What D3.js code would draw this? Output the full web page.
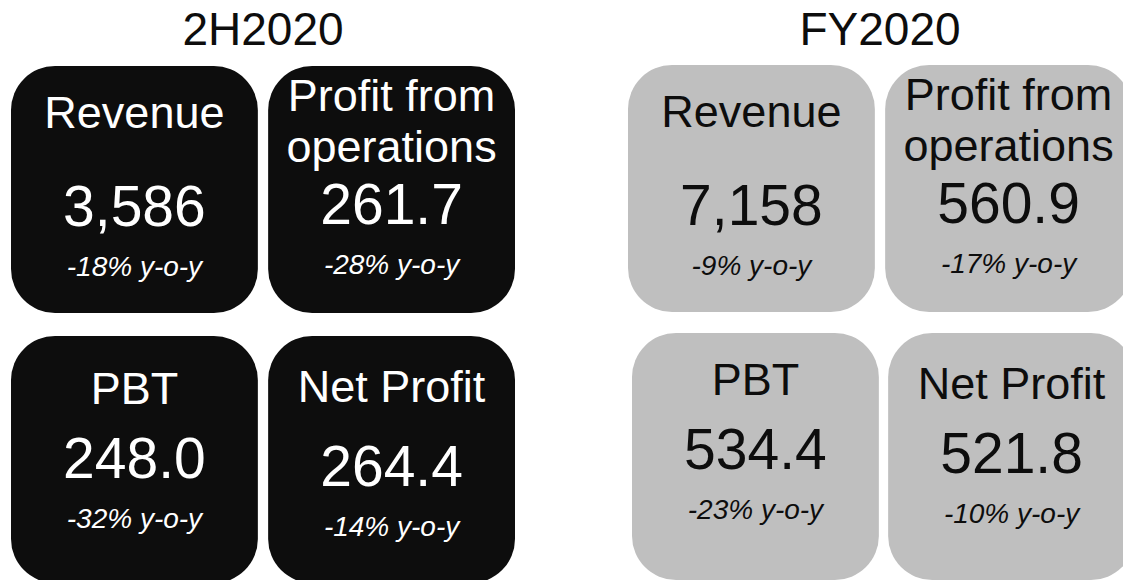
<!DOCTYPE html>
<html>
<head>
<meta charset="utf-8">
<script src="https://cdn.jsdelivr.net/npm/d3@7"></script>
<style>
  body { margin: 0; background: #fff; }
  text { font-family: Arial, 'Liberation Sans', sans-serif; }
</style>
</head>
<body>
<div id="chart"></div>
<script>
// data
const periods = ['2H2020', 'FY2020']
const metrics = ['Revenue', 'Profit from operations', 'PBT', 'Net Profit']
const labelLines = [['Revenue'], ['Profit from', 'operations'], ['PBT'], ['Net Profit']]
const values2H = ['3,586', '261.7', '248.0', '264.4']
const valuesFY = ['7,158', '560.9', '534.4', '521.8']
const change2H = ['-18%', '-28%', '-32%', '-14%']
const changeFY = ['-9%', '-17%', '-23%', '-10%']

const width = 1123
const height = 580

const svg = d3
  .select('#chart')
  .append('svg')
  .attr('width', width)
  .attr('height', height)

// panel origins
const panelX = d3.scaleOrdinal().domain(periods).range([11, 628])
const panelFill = d3.scaleOrdinal().domain(periods).range(['#0d0d0d', '#bfbfbf'])
const panelInk = d3.scaleOrdinal().domain(periods).range(['#ffffff', '#0d0d0d'])

// columns / rows inside a panel
const colScale = d3.scaleBand().domain([0, 1]).range([0, 504]).paddingInner(0.04)
const rowScale = d3.scaleOrdinal().domain([0, 1]).range([66, 336])
const cardH = 247

// small hand nudges (the source slide was laid out by hand)
const nudge = {
  'FY2020|PBT': { dx: 4, dy: -3, tdy: -4 },
  'FY2020|Net Profit': { dx: 3, dy: -3 },
  'FY2020|Revenue': { dx: 0, dy: -1 },
  'FY2020|Profit from operations': { dx: 0, dy: -1 },
  '2H2020|PBT': { dx: 0, dy: 0, tdy: 2 },
  '2H2020|Net Profit': { dx: 0, dy: 0, vdy: 10 },
}

const cards = []
periods.forEach(function(p, pi) {
  const vals = pi === 0 ? values2H : valuesFY
  const chg = pi === 0 ? change2H : changeFY
  metrics.forEach(function(m, i) {
    cards.push({
      period: p,
      metric: m,
      lines: labelLines[i],
      value: vals[i],
      change: chg[i],
      col: i % 2,
      row: Math.floor(i / 2),
    })
  })
})

// titles
svg
  .selectAll('.title')
  .data(periods)
  .enter()
  .append('text')
  .attr('class', 'title')
  .attr('x', d => panelX(d) + 252)
  .attr('y', 45)
  .attr('text-anchor', 'middle')
  .attr('font-size', 46)
  .attr('fill', '#0d0d0d')
  .text(d => d)

const g = svg
  .selectAll('.card')
  .data(cards)
  .enter()
  .append('g')
  .attr('class', 'card')
  .attr('transform', function(d) {
    const n = nudge[d.period + '|' + d.metric] || { dx: 0, dy: 0 }
    const x = panelX(d.period) + colScale(d.col) + n.dx
    const y = rowScale(d.row) + n.dy
    return 'translate(' + x + ',' + y + ')'
  })

g.append('rect')
  .attr('width', colScale.bandwidth())
  .attr('height', cardH)
  .attr('rx', 44)
  .attr('ry', 44)
  .attr('fill', d => panelFill(d.period))

const cx = colScale.bandwidth() / 2

g.each(function(d) {
  const sel = d3.select(this)
  const two = d.lines.length > 1
  const bottom = d.row === 1
  const n = nudge[d.period + '|' + d.metric] || {}
  const vdy = n.vdy || 0
  const tdy = n.tdy || 0
  const labelY = (two ? 45 : (bottom ? 66 : 62)) + tdy
  sel
    .selectAll('.label')
    .data(d.lines)
    .enter()
    .append('text')
    .attr('class', 'label')
    .attr('x', cx)
    .attr('y', (l, i) => labelY + i * 51)
    .attr('text-anchor', 'middle')
    .attr('font-size', 45)
    .attr('fill', panelInk(d.period))
    .text(l => l)

  const valueY = (bottom ? 140 : (two ? 158 : 160)) + tdy + vdy
  sel
    .append('text')
    .attr('x', cx)
    .attr('y', valueY)
    .attr('text-anchor', 'middle')
    .attr('font-size', 57)
    .attr('fill', panelInk(d.period))
    .text(d.value)

  sel
    .append('text')
    .attr('x', cx)
    .attr('y', valueY + 50)
    .attr('text-anchor', 'middle')
    .attr('font-size', 28)
    .attr('font-style', 'italic')
    .attr('fill', panelInk(d.period))
    .text(d.change + ' y-o-y')
})
</script>
</body>
</html>
